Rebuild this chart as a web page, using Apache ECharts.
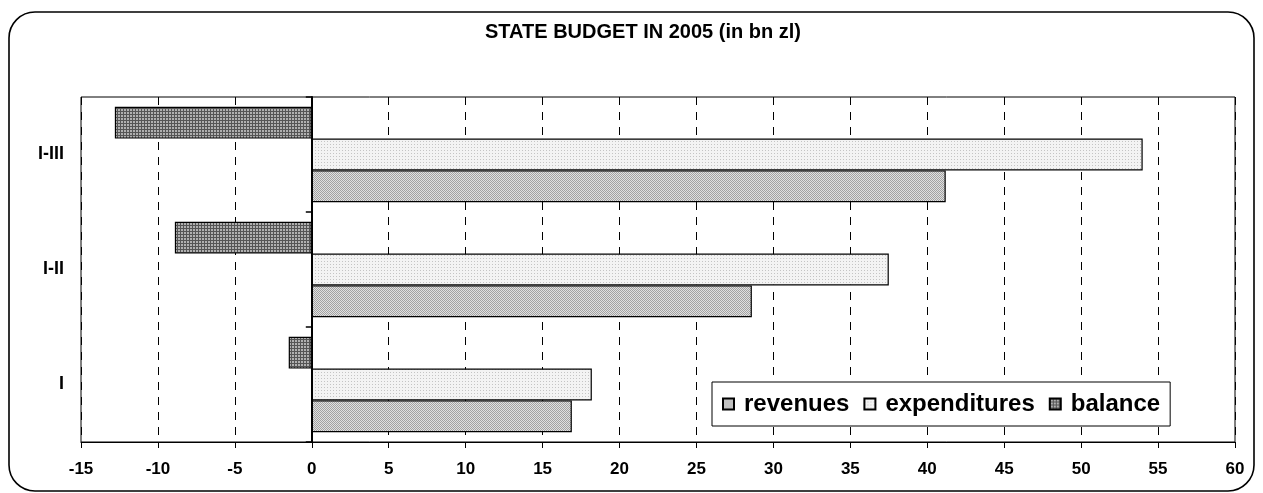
<!DOCTYPE html>
<html>
<head>
<meta charset="utf-8">
<script src="https://cdn.jsdelivr.net/npm/echarts@6/dist/echarts.min.js"></script>
<style>
  html, body { margin: 0; padding: 0; background: #fff; }
  #chart { width: 1263px; height: 493px; }
</style>
</head>
<body>
<div id="chart"></div>
<script>
// ---- data ----
var categories = ['I', 'I-II', 'I-III'];
var revenues = [16.9, 28.6, 41.2];
var expenditures = [18.2, 37.5, 54.0];
var balance = [-1.5, -8.9, -12.8];
var titleText = 'STATE BUDGET IN 2005 (in bn zl)';
var seriesNames = ['revenues', 'expenditures', 'balance'];

function makePattern(size, painter) {
  var c = document.createElement('canvas');
  c.width = size; c.height = size;
  var ctx = c.getContext('2d');
  painter(ctx);
  return { image: c, repeat: 'repeat' };
}
var patRevenues = makePattern(2, function (ctx) {
  ctx.fillStyle = '#e0e0e0'; ctx.fillRect(0, 0, 2, 2);
  ctx.fillStyle = '#a2a2a2'; ctx.fillRect(0, 0, 1, 1); ctx.fillRect(1, 1, 1, 1);
});
var patExpend = makePattern(3, function (ctx) {
  ctx.fillStyle = '#f3f3f3'; ctx.fillRect(0, 0, 3, 3);
  ctx.fillStyle = '#c4c4c4'; ctx.fillRect(0, 0, 1, 1);
});
var patBalance = makePattern(3, function (ctx) {
  ctx.fillStyle = '#b0b0b0'; ctx.fillRect(0, 0, 3, 3);
  ctx.fillStyle = '#555555'; ctx.fillRect(0, 0, 3, 1); ctx.fillRect(0, 0, 1, 3);
});

var chart = echarts.init(document.getElementById('chart'), null, { renderer: 'canvas' });
var font = 'Liberation Sans, Arial, sans-serif';
var barBase = {
  type: 'bar',
  barGap: 0,
  barCategoryGap: '17%',
  yAxisIndex: 0,
  emphasis: { disabled: true }
};
chart.setOption({
  animation: false,
  backgroundColor: '#fff',
  title: {
    text: titleText,
    left: 643, top: 22, padding: 0, textAlign: 'center',
    textStyle: { fontFamily: font, fontWeight: 'bold', fontSize: 20, color: '#000' }
  },
  graphic: [{
    type: 'rect',
    shape: { x: 9, y: 12, width: 1245, height: 479, r: 26 },
    style: { fill: 'none', stroke: '#000', lineWidth: 1.6 },
    silent: true, z: -1
  }],
  legend: {
    data: seriesNames,
    left: 712, top: 382,
    padding: [10, 10, 10, 10],
    itemWidth: 11, itemHeight: 11, itemGap: 14,
    icon: 'rect',
    borderColor: '#000', borderWidth: 1,
    backgroundColor: '#fff',
    textStyle: { fontFamily: font, fontWeight: 'bold', fontSize: 24, color: '#000', lineHeight: 24, padding: [0, 0, 0, 5] },
    selectedMode: false
  },
  grid: {
    left: 81, right: 28, top: 97, bottom: 51,
    show: true, borderColor: '#000', borderWidth: 1, backgroundColor: 'transparent'
  },
  xAxis: {
    type: 'value', min: -15, max: 60, interval: 5,
    axisLine: { show: true, onZero: false, lineStyle: { color: '#000', width: 1.2 } },
    axisTick: { show: true, length: 6, lineStyle: { color: '#000' } },
    axisLabel: { margin: 19, fontFamily: font, fontWeight: 'bold', fontSize: 17, color: '#000' },
    splitLine: { show: true, lineStyle: { color: '#000', type: [8, 7], width: 1 } }
  },
  yAxis: [{
    type: 'category', data: categories,
    axisLine: { show: false, onZero: false },
    axisTick: { show: false },
    axisLabel: { margin: 17, fontFamily: font, fontWeight: 'bold', fontSize: 18, color: '#000' },
    splitLine: { show: false }
  }, {
    type: 'category', data: categories, position: 'left',
    axisLine: { show: true, onZero: true, lineStyle: { color: '#000', width: 2 } },
    axisTick: { show: true, length: 6, lineStyle: { color: '#000', width: 1.5 } },
    axisLabel: { show: false },
    splitLine: { show: false }
  }],
  series: [
    Object.assign({}, barBase, { name: seriesNames[2], data: balance, itemStyle: { color: patBalance, borderColor: '#000', borderWidth: 1.2 } }),
    Object.assign({}, barBase, { name: seriesNames[1], data: expenditures, itemStyle: { color: patExpend, borderColor: '#000', borderWidth: 1.2 } }),
    Object.assign({}, barBase, { name: seriesNames[0], data: revenues, itemStyle: { color: patRevenues, borderColor: '#000', borderWidth: 1.2 } })
  ]
});
</script>
</body>
</html>
